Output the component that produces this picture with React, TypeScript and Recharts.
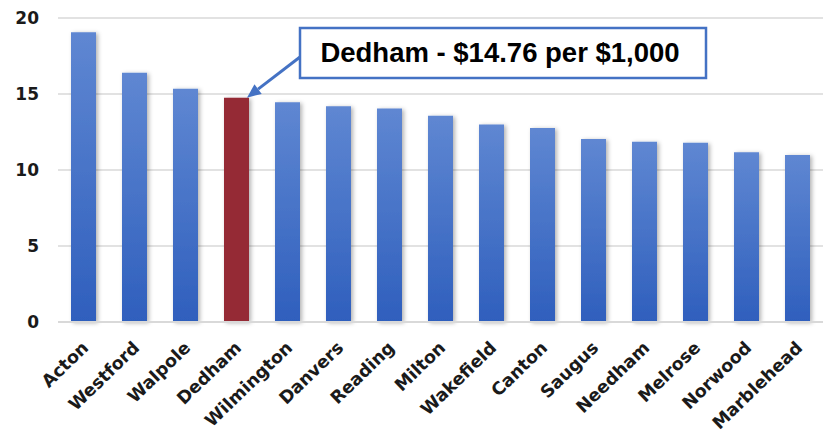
import React from "react";
import { BarChart, Bar, XAxis, YAxis, CartesianGrid, Cell } from "recharts";

const towns = ["Acton", "Westford", "Walpole", "Dedham", "Wilmington", "Danvers", "Reading", "Milton", "Wakefield", "Canton", "Saugus", "Needham", "Melrose", "Norwood", "Marblehead"];
const rates = [19.06, 16.4, 15.35, 14.76, 14.45, 14.2, 14.05, 13.57, 13.0, 12.76, 12.04, 11.86, 11.8, 11.16, 10.99];
const yTicks = [0, 5, 10, 15, 20];
const highlightTown = "Dedham";
const annotationText = "Dedham - $14.76 per $1,000";

const data = towns.map((t, i) => ({ town: t, rate: rates[i] }));
const highlightIndex = towns.indexOf(highlightTown);

const XTick = (props: any) => {
  const { x, y, payload } = props;
  const ax = x + 6;
  const ay = y + 19;
  return (
    <text
      x={ax}
      y={ay}
      transform={`rotate(-44, ${ax}, ${ay})`}
      textAnchor="end"
      fontFamily="DejaVu Sans"
      fontWeight="bold"
      fontSize={17.5}
      fill="#1a1a1a"
    >
      {payload.value}
    </text>
  );
};

const Annotation = (props: any) => {
  const { x, y, width, index } = props;
  if (index !== highlightIndex) return null;
  const tipX = x + width - 2;
  const tipY = y;
  const boxX = 300;
  const boxY = 28;
  const boxW = 406;
  const boxH = 50;
  const sx = boxX;
  const sy = boxY + 29;
  const ang = Math.atan2(tipY - sy, tipX - sx);
  const hl = 14;
  const hw = 6;
  const bx = tipX - hl * Math.cos(ang);
  const by = tipY - hl * Math.sin(ang);
  const px = -Math.sin(ang) * hw;
  const py = Math.cos(ang) * hw;
  return (
    <g>
      <line x1={sx} y1={sy} x2={bx} y2={by} stroke="#4472C4" strokeWidth={3} />
      <polygon points={`${tipX},${tipY} ${bx + px},${by + py} ${bx - px},${by - py}`} fill="#4472C4" />
      <rect x={boxX} y={boxY} width={boxW} height={boxH} fill="#ffffff" stroke="#4472C4" strokeWidth={2.5} />
      <text
        x={boxX + boxW / 2 - 3}
        y={boxY + boxH / 2 + 9}
        textAnchor="middle"
        fontFamily="Liberation Sans, Arial, sans-serif"
        fontWeight="bold"
        fontSize={27.5}
        fill="#000"
      >
        {annotationText}
      </text>
    </g>
  );
};

export default function App() {
  return (
    <div style={{ position: "absolute", left: 0, top: 0, width: 829, height: 432, background: "#fff" }}>
      <BarChart width={829} height={432} data={data} margin={{ top: 18, right: 6, left: 0, bottom: 0 }}>
        <defs>
          <linearGradient id="blueGrad" x1="0" y1="0" x2="0" y2="1">
            <stop offset="0%" stopColor="#5f87d2" />
            <stop offset="100%" stopColor="#2f5fbd" />
          </linearGradient>
          <filter id="shadow" x="-30%" y="-10%" width="160%" height="130%">
            <feDropShadow dx="2" dy="1" stdDeviation="2" floodColor="#000" floodOpacity="0.3" />
          </filter>
        </defs>
        <CartesianGrid vertical={false} stroke="#d9d9d9" strokeWidth={1.5} />
        <XAxis
          dataKey="town"
          interval={0}
          height={110}
          tickLine={false}
          axisLine={{ stroke: "#d9d9d9", strokeWidth: 2 }}
          tick={<XTick />}
        />
        <YAxis
          domain={[0, 20]}
          ticks={yTicks}
          width={58}
          axisLine={false}
          tickLine={false}
          tickSize={0}
          tickMargin={19}
          tick={{ fontFamily: "DejaVu Sans", fontWeight: "bold", fontSize: 17, fill: "#1a1a1a" }}
        />
        <Bar dataKey="rate" barSize={25} isAnimationActive={false} filter="url(#shadow)" label={<Annotation />}>
          {data.map((d, i) => (
            <Cell key={d.town} fill={i === highlightIndex ? "#952b35" : "url(#blueGrad)"} />
          ))}
        </Bar>
      </BarChart>
    </div>
  );
}
